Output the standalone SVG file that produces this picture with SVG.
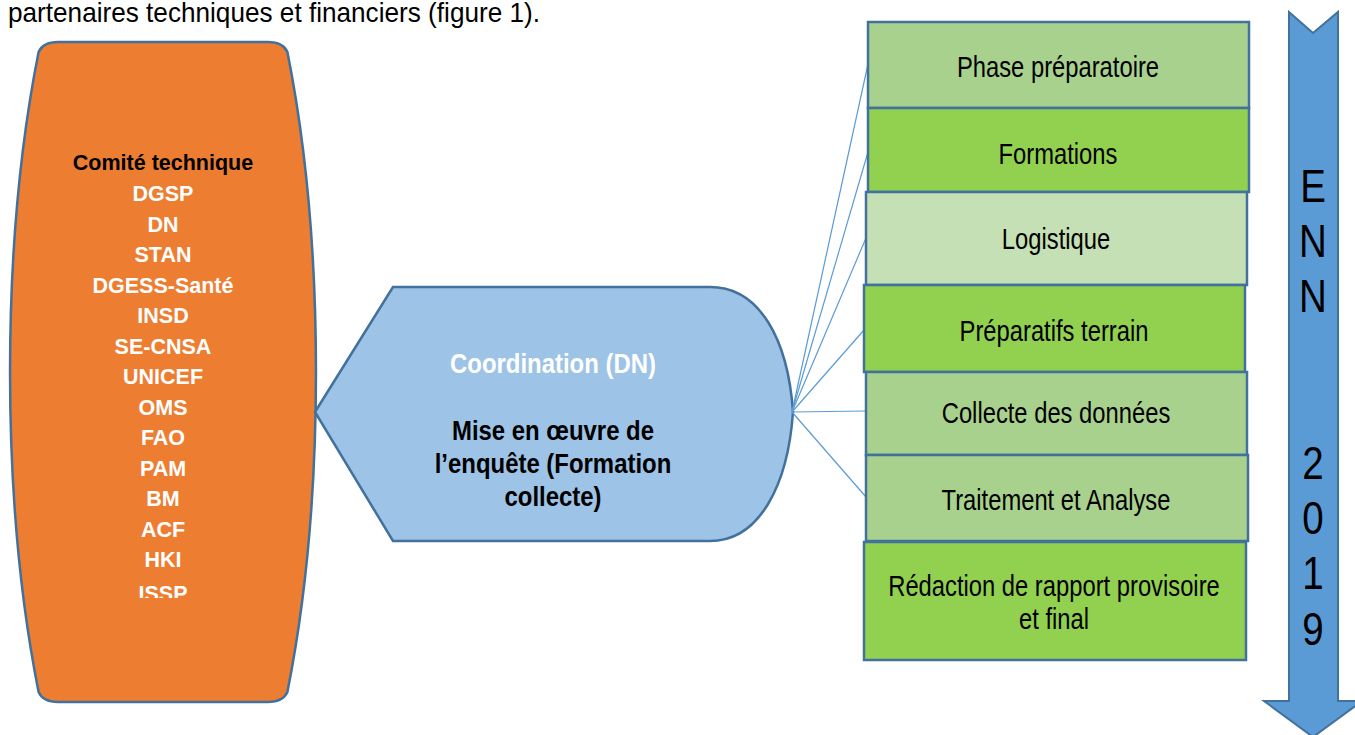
<svg xmlns="http://www.w3.org/2000/svg" width="1355" height="735" viewBox="0 0 1355 735">
<style>
text{font-family:"Liberation Sans",Arial,sans-serif;}
.box{stroke:#41719C;stroke-width:2.5;}
.bt{font-size:29px;fill:#000;text-anchor:middle;}
.org{font-size:21.5px;font-weight:bold;fill:#fff;text-anchor:middle;}
.co{font-size:28.5px;font-weight:bold;text-anchor:middle;}
.enn{font-size:47px;fill:#000;text-anchor:middle;}
.conn{stroke:#5B9BD5;stroke-width:1.2;fill:none;}
</style>
<defs>
<clipPath id="orgclip"><rect x="0" y="0" width="330" height="598"/></clipPath>
</defs>
<rect width="1355" height="735" fill="#fff"/>
<text x="8" y="22" font-size="28" fill="#000" textLength="532" lengthAdjust="spacingAndGlyphs">partenaires techniques et financiers (figure 1).</text>

<g id="comite">
<path d="M58,42 H268 Q283,42 287.4,52 A153,550 0 0 1 287.4,692 Q283,702 268,702 H58 Q43,702 38.6,692 A153,550 0 0 1 38.6,52 Q43,42 58,42 Z" fill="#ED7D31" stroke="#41719C" stroke-width="2.5"/>
<g clip-path="url(#orgclip)">
<text class="org" x="163" y="170" style="fill:#000">Comité technique</text>
<text class="org" x="163" y="201">DGSP</text>
<text class="org" x="163" y="232">DN</text>
<text class="org" x="163" y="262">STAN</text>
<text class="org" x="163" y="293">DGESS-Santé</text>
<text class="org" x="163" y="323">INSD</text>
<text class="org" x="163" y="354">SE-CNSA</text>
<text class="org" x="163" y="384">UNICEF</text>
<text class="org" x="163" y="415">OMS</text>
<text class="org" x="163" y="445">FAO</text>
<text class="org" x="163" y="476">PAM</text>
<text class="org" x="163" y="506">BM</text>
<text class="org" x="163" y="537">ACF</text>
<text class="org" x="163" y="567">HKI</text>
<text class="org" x="163" y="601">ISSP</text>
</g>
</g>

<g id="coordination">
<path d="M315,412 L393,287 L710,287 C760,287 788,340 793,412 C788,484 760,541 710,541 L393,541 Z" fill="#9DC3E6" stroke="#41719C" stroke-width="2.5"/>
<text class="co" transform="translate(553 373) scale(0.84 1)" fill="#fff">Coordination (DN)</text>
<text class="co" transform="translate(553 440) scale(0.84 1)" fill="#000">Mise en œuvre de</text>
<text class="co" transform="translate(553 473) scale(0.84 1)" fill="#000">l’enquête (Formation</text>
<text class="co" transform="translate(553 506) scale(0.84 1)" fill="#000">collecte)</text>
</g>

<g id="connectors">
<line class="conn" x1="792" y1="412" x2="868" y2="64"/>
<line class="conn" x1="792" y1="412" x2="868" y2="152"/>
<line class="conn" x1="792" y1="412" x2="866" y2="238"/>
<line class="conn" x1="792" y1="412" x2="864" y2="330"/>
<line class="conn" x1="792" y1="412" x2="866" y2="411"/>
<line class="conn" x1="792" y1="412" x2="866" y2="497"/>
</g>

<g id="phase">
<rect class="box" x="868" y="22" width="381" height="86" fill="#A9D18E"/>
<text class="bt" transform="translate(1058 77) scale(0.82 1)">Phase préparatoire</text>
</g>
<g id="formations">
<rect class="box" x="868" y="108" width="381" height="84" fill="#92D050"/>
<text class="bt" transform="translate(1058 164) scale(0.82 1)">Formations</text>
</g>
<g id="logistique">
<rect class="box" x="866" y="192" width="381" height="93" fill="#C5E0B4"/>
<text class="bt" transform="translate(1056 249) scale(0.82 1)">Logistique</text>
</g>
<g id="preparatifs">
<rect class="box" x="864" y="285" width="381" height="87" fill="#92D050"/>
<text class="bt" transform="translate(1054 341) scale(0.82 1)">Préparatifs terrain</text>
</g>
<g id="collecte">
<rect class="box" x="866" y="372" width="381" height="83" fill="#A9D18E"/>
<text class="bt" transform="translate(1056 423) scale(0.82 1)">Collecte des données</text>
</g>
<g id="traitement">
<rect class="box" x="866" y="455" width="382" height="86" fill="#A9D18E"/>
<text class="bt" transform="translate(1056 510) scale(0.82 1)">Traitement et Analyse</text>
</g>
<g id="redaction">
<rect class="box" x="864" y="542" width="382" height="118" fill="#92D050"/>
<text class="bt" transform="translate(1054 596) scale(0.82 1)">Rédaction de rapport provisoire</text>
<text class="bt" transform="translate(1054 629) scale(0.82 1)">et final</text>
</g>

<g id="enn2019">
<path d="M1289,12 L1313,33 L1338,12 L1338,701 L1362,701 L1313,737 L1264,701 L1289,701 Z" fill="#5B9BD5" stroke="#41719C" stroke-width="2"/>
<text class="enn" transform="translate(1313 202) scale(0.82 1)">E</text>
<text class="enn" transform="translate(1313 257) scale(0.82 1)">N</text>
<text class="enn" transform="translate(1313 312) scale(0.82 1)">N</text>
<text class="enn" transform="translate(1313 479) scale(0.82 1)">2</text>
<text class="enn" transform="translate(1313 534) scale(0.82 1)">0</text>
<text class="enn" transform="translate(1313 589) scale(0.82 1)">1</text>
<text class="enn" transform="translate(1313 645) scale(0.82 1)">9</text>
</g>
</svg>
